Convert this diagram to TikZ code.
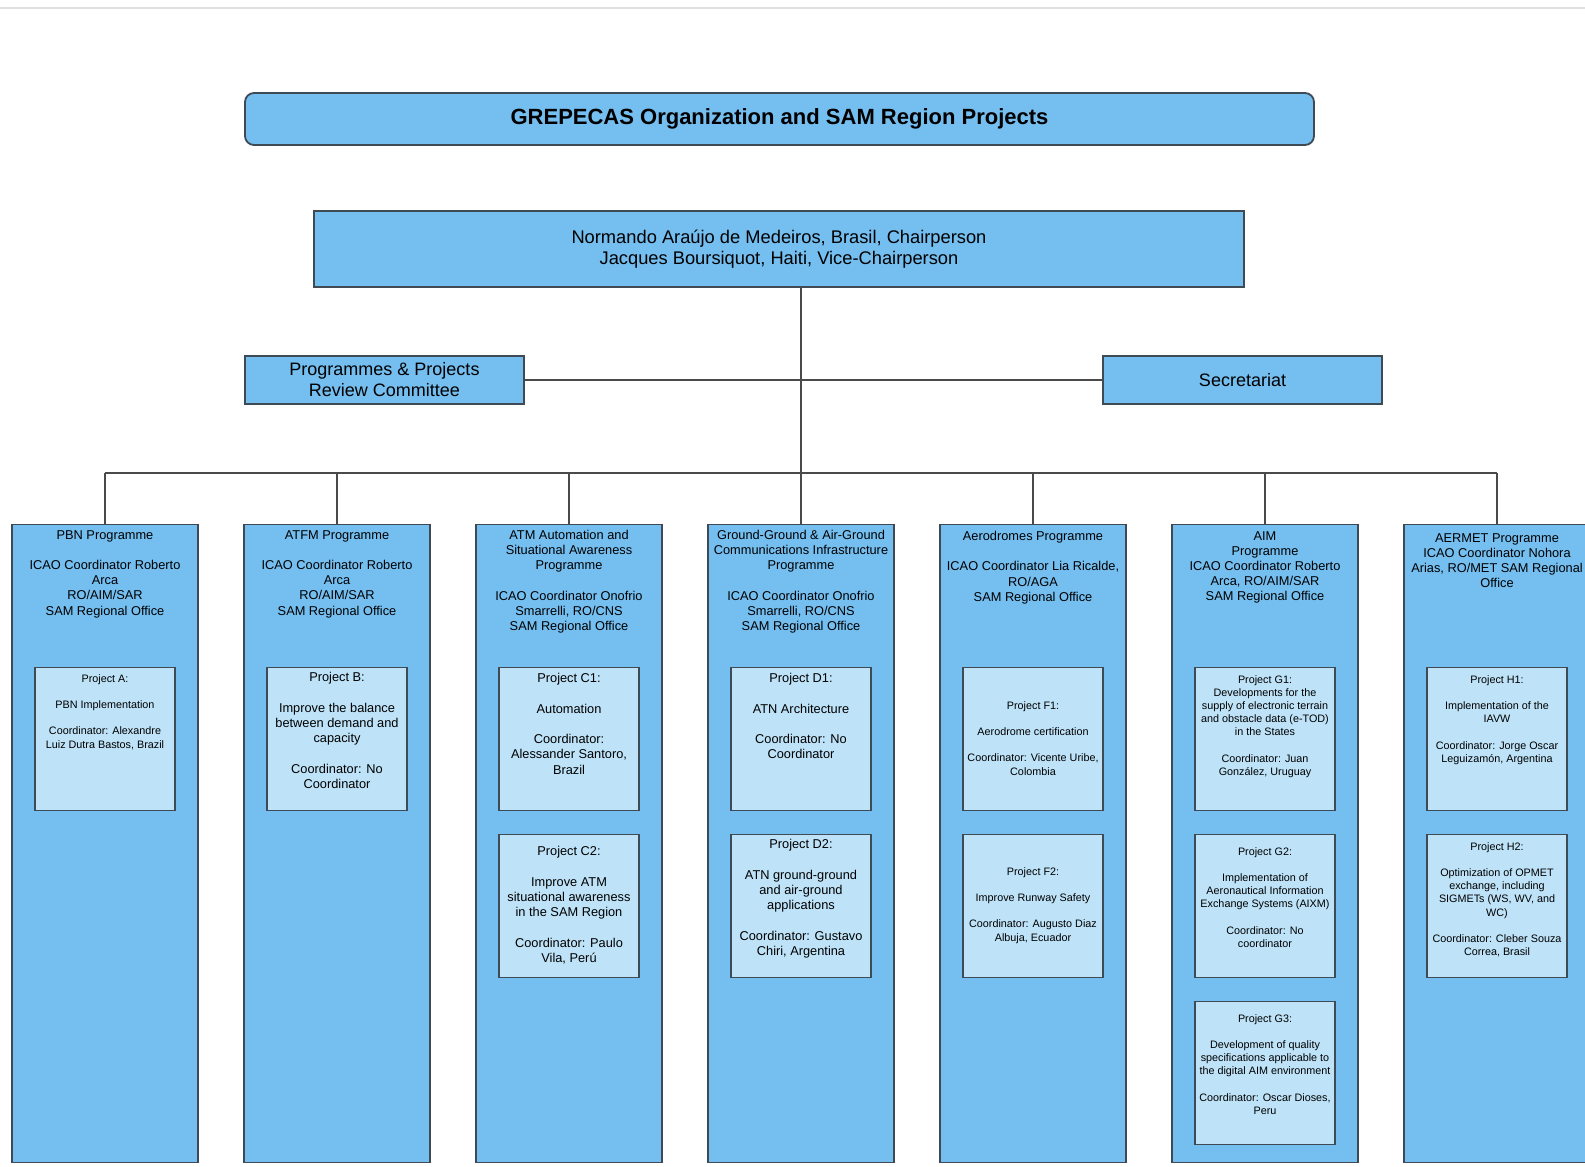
\documentclass[tikz,border=0pt]{standalone}
\usepackage{fontspec}
\setmainfont{Liberation Sans}
\usepackage{xcolor}
\definecolor{progblue}{HTML}{74BEF0}
\definecolor{projblue}{HTML}{BEE3F8}
\definecolor{edgegray}{HTML}{3E4A54}
\definecolor{wiregray}{HTML}{4A4A4A}
\newcommand{\gapline}{\\[\baselineskip]}

\tikzset{
  headbox/.style={draw=edgegray, line width=1.4pt, fill=progblue, inner sep=0pt, align=center},
  progbox/.style={draw=edgegray, line width=1.3pt, fill=progblue, anchor=north,
    minimum width=186pt, minimum height=638pt, inner sep=0pt},
  projbox/.style={draw=edgegray, line width=1.2pt, fill=projblue, anchor=north,
    minimum width=140pt, minimum height=143pt, inner sep=0pt},
  bigtext/.style={anchor=north, align=center, inner sep=0pt, font=\fontsize{12.8}{15.2}\selectfont},
  smalltext/.style={anchor=north, align=center, inner sep=0pt, font=\fontsize{10.8}{13.2}\selectfont},
  wire/.style={draw=wiregray, line width=1.1pt},
}

\begin{document}
\begin{tikzpicture}[x=1pt, y=-1pt]
        \useasboundingbox (0,0) rectangle (1585,1167);
        \draw[gray!25, line width=1.5pt] (0,8) -- (1585,8); % page edge

        % Title bar
        \node[headbox, rounded corners=9pt, line width=1.8pt, minimum width=1069pt, minimum height=52pt,
          font=\bfseries\fontsize{22}{26}\selectfont] (title) at (779.5,119) {GREPECAS Organization and SAM Region Projects};

        % Chairperson box
        \node[headbox, minimum width=930pt, minimum height=76pt, font=\fontsize{18.3}{21.5}\selectfont] (chair) at (779,249)
          {Normando Araújo de Medeiros, Brasil, Chairperson\\Jacques Boursiquot, Haiti, Vice-Chairperson};

        % Committee and secretariat
        \node[headbox, minimum width=279pt, minimum height=48pt, font=\fontsize{18}{21}\selectfont] (review) at (384.5,380)
          {Programmes \& Projects\\Review Committee};
        \node[headbox, minimum width=279pt, minimum height=48pt, font=\fontsize{18}{21}\selectfont] (secr) at (1242.5,380)
          {Secretariat};

        % Programme columns
        \node[progbox] (colA) at (105,524) {};
        \node[progbox] (colB) at (337,524) {};
        \node[progbox] (colC) at (569,524) {};
        \node[progbox] (colD) at (801,524) {};
        \node[progbox] (colF) at (1033,524) {};
        \node[progbox] (colG) at (1265,524) {};
        \node[progbox] (colH) at (1497,524) {};

        % Connectors
        \coordinate (bus) at (801,473);
        \draw[wire] (chair.south -| colD.north) -- (colD.north);
        \draw[wire] (review.east) -- (secr.west);
        \draw[wire] (colA.north |- bus) -- (colH.north |- bus);
        \draw[wire] (colA.north) -- (colA.north |- bus);
        \draw[wire] (colB.north) -- (colB.north |- bus);
        \draw[wire] (colC.north) -- (colC.north |- bus);
        \draw[wire] (colF.north) -- (colF.north |- bus);
        \draw[wire] (colG.north) -- (colG.north |- bus);
        \draw[wire] (colH.north) -- (colH.north |- bus);

        % Programme headings
        \node[bigtext] (hdrA) at ([yshift=-6pt]colA.north) {PBN Programme\gapline ICAO Coordinator Roberto\\Arca\\RO/AIM/SAR\\SAM Regional Office};
        \node[bigtext] (hdrB) at ([yshift=-6pt]colB.north) {ATFM Programme\gapline ICAO Coordinator Roberto\\Arca\\RO/AIM/SAR\\SAM Regional Office};
        \node[bigtext] (hdrC) at ([yshift=-6pt]colC.north) {ATM Automation and\\Situational Awareness\\Programme\gapline ICAO Coordinator Onofrio\\Smarrelli, RO/CNS\\SAM Regional Office};
        \node[bigtext] (hdrD) at ([yshift=-6pt]colD.north) {Ground-Ground \& Air-Ground\\Communications Infrastructure\\Programme\gapline ICAO Coordinator Onofrio\\Smarrelli, RO/CNS\\SAM Regional Office};
        \node[bigtext] (hdrF) at ([yshift=-7pt]colF.north) {Aerodromes Programme\gapline ICAO Coordinator Lia Ricalde,\\RO/AGA\\SAM Regional Office};
        \node[bigtext] (hdrG) at ([yshift=-7pt]colG.north) {AIM\\Programme\\ICAO Coordinator Roberto\\Arca, RO/AIM/SAR\\SAM Regional Office};
        \node[bigtext] (hdrH) at ([yshift=-9pt]colH.north) {AERMET Programme\\ICAO Coordinator Nohora\\Arias, RO/MET SAM Regional\\Office};

        % Projects, first row
        \node[projbox] (pA) at (105,667) {};
        \node[smalltext] at ([yshift=-7pt]pA.north) {Project A:\gapline PBN Implementation\gapline Coordinator: Alexandre\\Luiz Dutra Bastos, Brazil};
        \node[projbox] (pB) at (337,667) {};
        \node[bigtext] at ([yshift=-5.4pt]pB.north) {Project B:\gapline Improve the balance\\between demand and\\capacity\gapline Coordinator: No\\Coordinator};
        \node[projbox] (pC1) at (569,667) {};
        \node[bigtext] at ([yshift=-6.4pt]pC1.north) {Project C1:\gapline Automation\gapline Coordinator:\\Alessander Santoro,\\Brazil};
        \node[projbox] (pD1) at (801,667) {};
        \node[bigtext] at ([yshift=-6.4pt]pD1.north) {Project D1:\gapline ATN Architecture\gapline Coordinator: No\\Coordinator};
        \node[projbox] (pF1) at (1033,667) {};
        \node[smalltext] at ([yshift=-34pt]pF1.north) {Project F1:\gapline Aerodrome certification\gapline Coordinator: Vicente Uribe,\\Colombia};
        \node[projbox] (pG1) at (1265,667) {};
        \node[smalltext] at ([yshift=-8pt]pG1.north) {Project G1:\\Developments for the\\supply of electronic terrain\\and obstacle data (e-TOD)\\in the States\gapline Coordinator: Juan\\González, Uruguay};
        \node[projbox] (pH1) at (1497,667) {};
        \node[smalltext] at ([yshift=-8pt]pH1.north) {Project H1:\gapline Implementation of the\\IAVW\gapline Coordinator: Jorge Oscar\\Leguizamón, Argentina};

        % Projects, second row
        \node[projbox] (pC2) at (569,834) {};
        \node[bigtext] at ([yshift=-12.4pt]pC2.north) {Project C2:\gapline Improve ATM\\situational awareness\\in the SAM Region\gapline Coordinator: Paulo\\Vila, Perú};
        \node[projbox] (pD2) at (801,834) {};
        \node[bigtext] at ([yshift=-5.4pt]pD2.north) {Project D2:\gapline ATN ground-ground\\and air-ground\\applications\gapline Coordinator: Gustavo\\Chiri, Argentina};
        \node[projbox] (pF2) at (1033,834) {};
        \node[smalltext] at ([yshift=-33pt]pF2.north) {Project F2:\gapline Improve Runway Safety\gapline Coordinator: Augusto Diaz\\Albuja, Ecuador};
        \node[projbox] (pG2) at (1265,834) {};
        \node[smalltext] at ([yshift=-13pt]pG2.north) {Project G2:\gapline Implementation of\\Aeronautical Information\\Exchange Systems (AIXM)\gapline Coordinator: No\\coordinator};
        \node[projbox] (pH2) at (1497,834) {};
        \node[smalltext] at ([yshift=-8pt]pH2.north) {Project H2:\gapline Optimization of OPMET\\exchange, including\\SIGMETs (WS, WV, and\\WC)\gapline Coordinator: Cleber Souza\\Correa, Brasil};

        % Projects, third row
        \node[projbox] (pG3) at (1265,1001) {};
        \node[smalltext] at ([yshift=-13pt]pG3.north) {Project G3:\gapline Development of quality\\specifications applicable to\\the digital AIM environment\gapline Coordinator: Oscar Dioses,\\Peru};
    \end{tikzpicture}
\end{document}
